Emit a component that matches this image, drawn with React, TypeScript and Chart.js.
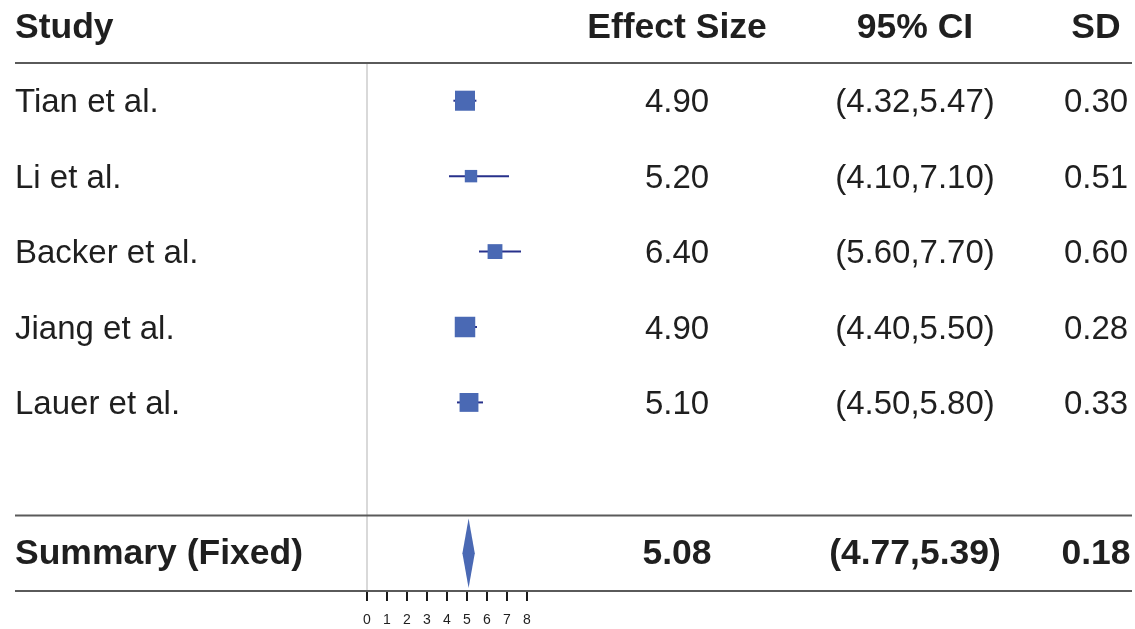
import React, { useEffect, useRef } from 'react';
import { Chart, registerables } from 'chart.js';

Chart.register(...registerables);

// ---- data ----
const HEADERS = ['Study', 'Effect Size', '95% CI', 'SD'];
const STUDIES = ['Tian et al.', 'Li et al.', 'Backer et al.', 'Jiang et al.', 'Lauer et al.'];
const EFFECTS = [4.9, 5.2, 6.4, 4.9, 5.1];
const LOWERS = [4.32, 4.1, 5.6, 4.4, 4.5];
const UPPERS = [5.47, 7.1, 7.7, 5.5, 5.8];
const SDS = [0.3, 0.51, 0.6, 0.28, 0.33];
const SUMMARY_LABEL = 'Summary (Fixed)';
const SUMMARY_EFFECT = [5.08];
const SUMMARY_LOWER = [4.77];
const SUMMARY_UPPER = [5.39];
const SUMMARY_SD = [0.18];
const X_TICKS = [0, 1, 2, 3, 4, 5, 6, 7, 8];

// ---- styles ----
const W = 1135;
const H = 629;
const FONT = '"Liberation Sans", Arial, Helvetica, sans-serif';
const TEXT_COLOR = '#1f1f1f';
const BOX_COLOR = '#4a69b4';
const LINE_COLOR = '#27318b';
const RULE_COLOR = '#5a5a5a';
const ZERO_COLOR = '#cccccc';
const REG_SIZE = 33;
const BOLD_SIZE = 35.5;
const COL_X = [15, 677, 915, 1096];
const COL_ALIGN: CanvasTextAlign[] = ['left', 'center', 'center', 'center'];
const RULE_LEFT = 15;
const RULE_RIGHT = 1132;
const MAX_BOX = 20.5;

const SUMMARY_ROW = STUDIES.length + 1;
const Y_MAX = STUDIES.length + 2;

const fmt = (v: number) => v.toFixed(2);

function boxSides(): number[] {
  const info = LOWERS.map((l, i) => 1 / (UPPERS[i] - l));
  const mx = Math.max(...info);
  return info.map((v) => MAX_BOX * Math.sqrt(v / mx));
}

function drawText(ctx: CanvasRenderingContext2D, text: string, x: number, yc: number, align: CanvasTextAlign, bold: boolean) {
  const size = bold ? BOLD_SIZE : REG_SIZE;
  ctx.font = `${bold ? 'bold ' : ''}${size}px ${FONT}`;
  ctx.fillStyle = TEXT_COLOR;
  ctx.textAlign = align;
  ctx.textBaseline = 'alphabetic';
  ctx.fillText(text, x, yc + size * 0.35);
}

const forestPlugin = {
  id: 'forest',
  beforeDatasetsDraw(chart: any) {
    const { ctx, scales } = chart;
    const x = scales.x;
    const y = scales.y;
    ctx.save();
    // zero line
    ctx.strokeStyle = ZERO_COLOR;
    ctx.lineWidth = 1.5;
    ctx.beginPath();
    ctx.moveTo(x.getPixelForValue(0), y.getPixelForValue(0));
    ctx.lineTo(x.getPixelForValue(0), y.getPixelForValue(Y_MAX));
    ctx.stroke();
    // CI lines
    ctx.strokeStyle = LINE_COLOR;
    ctx.lineWidth = 2;
    STUDIES.forEach((_, i) => {
      const py = y.getPixelForValue(i + 0.5);
      ctx.beginPath();
      ctx.moveTo(x.getPixelForValue(LOWERS[i]), py);
      ctx.lineTo(x.getPixelForValue(UPPERS[i]), py);
      ctx.stroke();
    });
    // summary diamond
    const cy = y.getPixelForValue(SUMMARY_ROW + 0.5);
    const top = y.getPixelForValue(SUMMARY_ROW + 0.04);
    const bot = y.getPixelForValue(SUMMARY_ROW + 0.96);
    ctx.fillStyle = BOX_COLOR;
    ctx.beginPath();
    ctx.moveTo(x.getPixelForValue(SUMMARY_LOWER[0]), cy);
    ctx.lineTo(x.getPixelForValue(SUMMARY_EFFECT[0]), top);
    ctx.lineTo(x.getPixelForValue(SUMMARY_UPPER[0]), cy);
    ctx.lineTo(x.getPixelForValue(SUMMARY_EFFECT[0]), bot);
    ctx.closePath();
    ctx.fill();
    ctx.restore();
  },
  afterDraw(chart: any) {
    const { ctx, scales } = chart;
    const y = scales.y;
    ctx.save();
    // rules
    ctx.strokeStyle = RULE_COLOR;
    ctx.lineWidth = 2;
    [0, SUMMARY_ROW, Y_MAX].forEach((r) => {
      const py = y.getPixelForValue(r);
      ctx.beginPath();
      ctx.moveTo(RULE_LEFT, py);
      ctx.lineTo(RULE_RIGHT, py);
      ctx.stroke();
    });
    // header
    const hy = y.getPixelForValue(-0.5);
    HEADERS.forEach((h, c) => drawText(ctx, h, COL_X[c], hy, COL_ALIGN[c], true));
    // rows
    STUDIES.forEach((s, i) => {
      const py = y.getPixelForValue(i + 0.5);
      const cells = [s, fmt(EFFECTS[i]), `(${fmt(LOWERS[i])},${fmt(UPPERS[i])})`, fmt(SDS[i])];
      cells.forEach((t, c) => drawText(ctx, t, COL_X[c], py, COL_ALIGN[c], false));
    });
    // summary
    const sy = y.getPixelForValue(SUMMARY_ROW + 0.5) - 1.5;
    const sCells = [SUMMARY_LABEL, fmt(SUMMARY_EFFECT[0]), `(${fmt(SUMMARY_LOWER[0])},${fmt(SUMMARY_UPPER[0])})`, fmt(SUMMARY_SD[0])];
    sCells.forEach((t, c) => drawText(ctx, t, COL_X[c], sy, COL_ALIGN[c], true));
    ctx.restore();
  },
};

export default function App() {
  const ref = useRef<HTMLCanvasElement | null>(null);
  useEffect(() => {
    document.body.style.margin = '0';
    const canvas = ref.current;
    if (!canvas) return;
    const sides = boxSides();
    const chart = new Chart(canvas, {
      type: 'scatter',
      data: {
        datasets: [
          {
            data: STUDIES.map((_, i) => ({ x: EFFECTS[i], y: i + 0.5 })),
            pointStyle: 'rect',
            pointRadius: sides.map((s) => s / Math.SQRT2),
            pointHoverRadius: sides.map((s) => s / Math.SQRT2),
            backgroundColor: BOX_COLOR,
            borderColor: BOX_COLOR,
            borderWidth: 0,
          },
        ],
      },
      options: {
        responsive: false,
        animation: false,
        events: [],
        layout: { padding: { left: 367, right: W - 527, top: 63, bottom: 0 } },
        plugins: { legend: { display: false }, tooltip: { enabled: false } },
        scales: {
          x: {
            type: 'linear',
            min: X_TICKS[0],
            max: X_TICKS[X_TICKS.length - 1],
            afterBuildTicks: (scale: any) => {
              scale.ticks = X_TICKS.map((v) => ({ value: v }));
            },
            afterFit: (scale: any) => {
              scale.height = 38;
            },
            grid: {
              drawOnChartArea: false,
              drawTicks: true,
              tickLength: 10,
              tickColor: '#1a1a1a',
              lineWidth: 2,
            },
            border: { display: false },
            ticks: {
              autoSkip: false,
              maxRotation: 0,
              padding: 11,
              color: TEXT_COLOR,
              font: { family: FONT, size: 14 },
            },
          },
          y: {
            type: 'linear',
            display: false,
            min: 0,
            max: Y_MAX,
            reverse: true,
          },
        },
      },
      plugins: [forestPlugin],
    });
    return () => chart.destroy();
  }, []);
  return <canvas ref={ref} width={W} height={H} style={{ display: 'block' }} />;
}
